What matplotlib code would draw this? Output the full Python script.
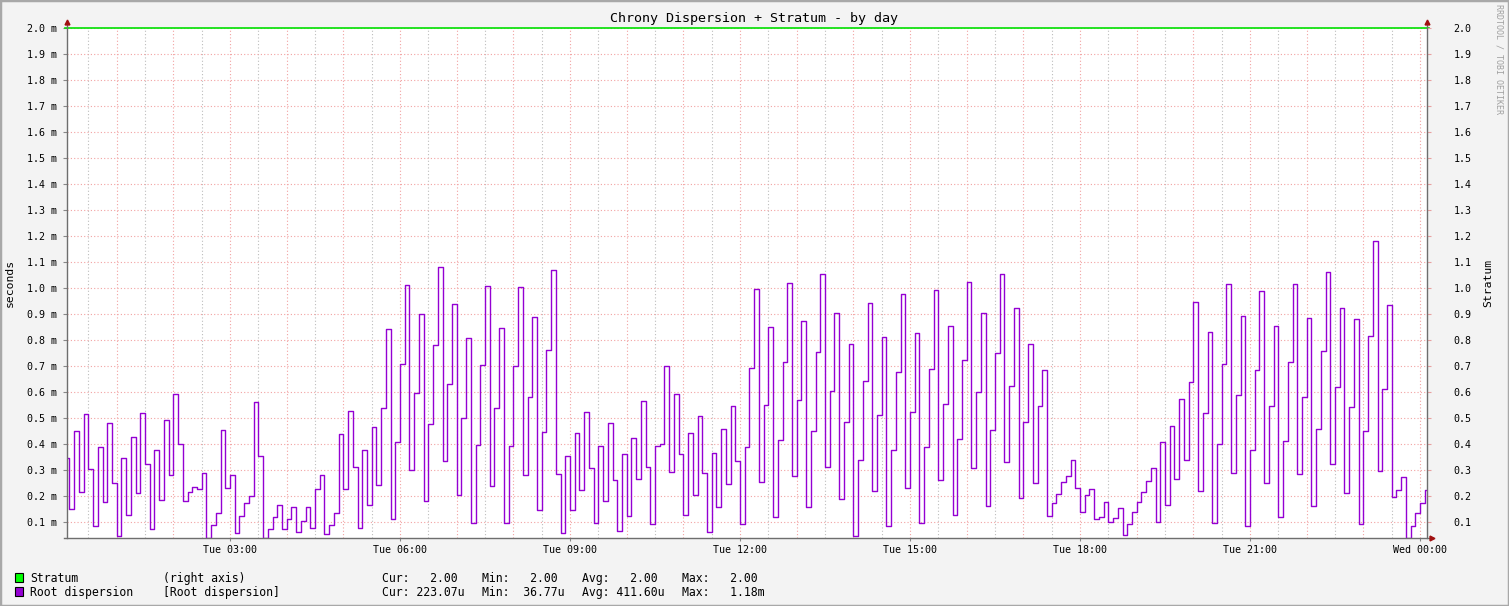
import matplotlib
matplotlib.use("Agg")
import matplotlib.pyplot as plt
import numpy as np
from matplotlib.lines import Line2D
from matplotlib.patches import Rectangle

W, H, DPI = 1509, 606, 100

# ---- data (root dispersion in milliseconds, one value per 5-minute step, starting Tue 00:05)
root_dispersion_ms = [
    0.346, 0.150, 0.450, 0.215, 0.515, 0.304, 0.086, 0.388, 0.177, 0.481, 0.250, 0.047, 0.346, 0.127, 0.427,
    0.212, 0.519, 0.323, 0.073, 0.377, 0.185, 0.492, 0.281, 0.592, 0.400, 0.181, 0.215, 0.235, 0.228,
    0.287, 0.0368, 0.088, 0.135, 0.454, 0.231, 0.281, 0.058, 0.123, 0.173, 0.200, 0.562, 0.354, 0.0368,
    0.073, 0.119, 0.165, 0.073, 0.112, 0.158, 0.062, 0.104, 0.158, 0.077, 0.227, 0.281, 0.054, 0.088,
    0.135, 0.438, 0.227, 0.527, 0.312, 0.077, 0.377, 0.165, 0.465, 0.242, 0.538, 0.842, 0.112, 0.408,
    0.708, 1.012, 0.300, 0.596, 0.900, 0.181, 0.477, 0.781, 1.081, 0.335, 0.631, 0.938, 0.204, 0.500, 0.808,
    0.096, 0.396, 0.704, 1.008, 0.238, 0.538, 0.846, 0.096, 0.392, 0.700, 1.004, 0.281, 0.581, 0.888,
    0.146, 0.446, 0.762, 1.069, 0.285, 0.058, 0.354, 0.146, 0.442, 0.223, 0.523, 0.308, 0.096, 0.392, 0.181,
    0.481, 0.262, 0.065, 0.362, 0.123, 0.423, 0.265, 0.565, 0.312, 0.092, 0.392, 0.400, 0.700, 0.292,
    0.592, 0.362, 0.127, 0.442, 0.204, 0.508, 0.288, 0.062, 0.365, 0.158, 0.458, 0.246, 0.546, 0.335, 0.092,
    0.388, 0.692, 0.996, 0.254, 0.550, 0.850, 0.119, 0.415, 0.715, 1.019, 0.277, 0.569, 0.873, 0.158,
    0.450, 0.754, 1.054, 0.312, 0.604, 0.904, 0.188, 0.485, 0.785, 0.046, 0.338, 0.642, 0.942, 0.219, 0.512,
    0.812, 0.085, 0.377, 0.677, 0.977, 0.231, 0.523, 0.827, 0.096, 0.388, 0.688, 0.992, 0.262, 0.554,
    0.854, 0.127, 0.419, 0.723, 1.023, 0.308, 0.600, 0.904, 0.162, 0.454, 0.750, 1.054, 0.331, 0.623, 0.923,
    0.194, 0.485, 0.785, 0.250, 0.546, 0.685, 0.123, 0.173, 0.208, 0.254, 0.277, 0.338, 0.231, 0.138,
    0.204, 0.227, 0.112, 0.119, 0.177, 0.100, 0.115, 0.154, 0.050, 0.092, 0.138, 0.177, 0.215, 0.258,
    0.308, 0.100, 0.408, 0.165, 0.469, 0.265, 0.573, 0.338, 0.638, 0.946, 0.219, 0.519, 0.831, 0.096,
    0.400, 0.708, 1.015, 0.288, 0.588, 0.892, 0.085, 0.377, 0.685, 0.988, 0.250, 0.546, 0.854, 0.119, 0.412,
    0.715, 1.015, 0.285, 0.581, 0.885, 0.162, 0.458, 0.758, 1.062, 0.323, 0.619, 0.923, 0.212, 0.542, 0.881,
    0.092, 0.450, 0.815, 1.181, 0.296, 0.612, 0.935, 0.196, 0.223, 0.273, 0.0368, 0.085, 0.135, 0.173, 0.223,
]
stratum = [2.00] * len(root_dispersion_ms)

first_step_min = 5
step_min = 5

x_tick_hours = [3, 6, 9, 12, 15, 18, 21, 24]
x_tick_labels = ["Tue 03:00", "Tue 06:00", "Tue 09:00", "Tue 12:00",
                 "Tue 15:00", "Tue 18:00", "Tue 21:00", "Wed 00:00"]
y_ticks = [0.1, 0.2, 0.3, 0.4, 0.5, 0.6, 0.7, 0.8, 0.9, 1.0,
           1.1, 1.2, 1.3, 1.4, 1.5, 1.6, 1.7, 1.8, 1.9, 2.0]
left_labels = [f"{v:.1f} m" for v in y_ticks]
right_labels = [f"{v:.1f}" for v in y_ticks]

legend_rows = [
    ("#00FF00", "Stratum", "(right axis)", ["Cur:   2.00", "Min:   2.00", "Avg:   2.00", "Max:   2.00"]),
    ("#9400D3", "Root dispersion", "[Root dispersion]", ["Cur: 223.07u", "Min:  36.77u", "Avg: 411.60u", "Max:   1.18m"]),
]

title = "Chrony Dispersion + Stratum - by day"

# ---- figure
MONO = "DejaVu Sans Mono"
plt.rcParams["font.family"] = [MONO]

fig = plt.figure(figsize=(W / DPI, H / DPI), dpi=DPI, facecolor="#F3F3F3")

def fx(px):
    return px / W

def fy(py):
    return 1 - py / H

L, R, T, B = 67, 1427, 28, 538
ax = fig.add_axes([fx(L), fy(B), (R - L) / W, (B - T) / H])
ax.set_facecolor("white")

x_lo = 7.4 / 60
x_hi = 24 + 7.4 / 60
y_lo, y_hi = 0.0385, 2.0
ax.set_xlim(x_lo, x_hi)
ax.set_ylim(y_lo, y_hi)

# grid
for h in np.arange(0.5, 24.5, 1.0):
    ax.axvline(h, color="#BDBDBD", lw=0.8, ls=(0, (1, 2)), zorder=1)
for h in np.arange(1, 25, 1):
    ax.axvline(h, color="#F2A2A2", lw=0.8, ls=(0, (1, 2)), zorder=1)
for v in y_ticks:
    ax.axhline(v, color="#F2A2A2", lw=0.8, ls=(0, (1, 2)), zorder=1)

n = len(root_dispersion_ms)
t_hours = (first_step_min + step_min * np.arange(n + 1)) / 60.0
vals = list(root_dispersion_ms) + [root_dispersion_ms[-1]]
ax.step(t_hours, vals, where="post", color="#9400D3", lw=1.0, zorder=3)

strat_vals = list(stratum) + [stratum[-1]]
ax.step(t_hours, strat_vals, where="post", color="#00E000", lw=1.2, zorder=4, clip_on=False)

for s in ax.spines.values():
    s.set_visible(False)

ax.set_yticks(y_ticks)
ax.set_yticklabels(left_labels, fontsize=7.2)
ax.tick_params(axis="y", which="major", length=3, width=0.8, color="#888888", pad=4, direction="out")
ax.set_xticks(x_tick_hours)
ax.set_xticklabels(x_tick_labels, fontsize=7.2)
ax.tick_params(axis="x", which="major", length=2, width=0.8, color="#888888", pad=3, direction="out")

ax2 = ax.twinx()
ax2.set_ylim(y_lo, y_hi)
ax2.set_yticks(y_ticks)
ax2.set_yticklabels(right_labels, fontsize=7.2)
ax2.tick_params(axis="y", length=3, width=0.8, color="#E8A0A0", pad=16, direction="out")
for s in ax2.spines.values():
    s.set_visible(False)

# axis lines with arrows
axis_c = "#6E6E6E"
fig.add_artist(Line2D([fx(L), fx(L)], [fy(B), fy(22)], color=axis_c, lw=1.0))
fig.add_artist(Line2D([fx(R), fx(R)], [fy(B), fy(22)], color=axis_c, lw=1.0))
fig.add_artist(Line2D([fx(L - 3), fx(1432)], [fy(B), fy(B)], color=axis_c, lw=1.0))
arrow_c = "#A01010"
fig.add_artist(Line2D([fx(L)], [fy(22)], marker="^", ms=3.5, color=arrow_c, mec=arrow_c, lw=0))
fig.add_artist(Line2D([fx(R)], [fy(22)], marker="^", ms=3.5, color=arrow_c, mec=arrow_c, lw=0))
fig.add_artist(Line2D([fx(1432)], [fy(B)], marker=">", ms=3.5, color=arrow_c, mec=arrow_c, lw=0))

# texts
fig.text(fx(754.5), fy(18.5), title, ha="center", va="center", fontsize=9.6, color="black")
fig.text(fx(10), fy(283), "seconds", rotation=90, ha="center", va="center", fontsize=8.2)
fig.text(fx(1488), fy(283), "Stratum", rotation=90, ha="center", va="center", fontsize=8.2)
fig.text(fx(1499), fy(4), "RRDTOOL / TOBI OETIKER", rotation=-90, ha="center", va="top",
         fontsize=6.0, color="#A0A0A0")

# legend
row_base = [582, 596]
stat_x = [382, 482, 582, 682]
for (col, name, comment, stats), yb in zip(legend_rows, row_base):
    fig.add_artist(Rectangle((fx(15), fy(yb)), 8 / W, 9 / H, transform=fig.transFigure,
                             facecolor=col, edgecolor="black", lw=0.8))
    fig.text(fx(30), fy(yb), name, ha="left", va="baseline", fontsize=8.3)
    fig.text(fx(163), fy(yb), comment, ha="left", va="baseline", fontsize=8.3)
    for sx, st in zip(stat_x, stats):
        fig.text(fx(sx), fy(yb), st, ha="left", va="baseline", fontsize=8.3)

# frame border
fig.add_artist(Rectangle((0, 0), 1, 1, transform=fig.transFigure, fill=False,
                         edgecolor="#A8A8A8", lw=2.5))

fig.savefig("out.png", dpi=DPI, facecolor=fig.get_facecolor())
